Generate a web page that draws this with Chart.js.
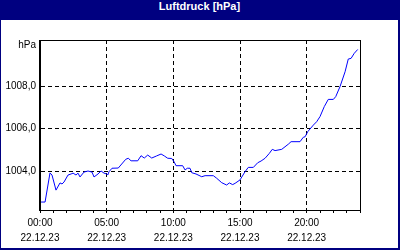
<!DOCTYPE html>
<html>
<head>
<meta charset="utf-8">
<script src="https://cdn.jsdelivr.net/npm/chart.js@4"></script>
<style>
  html, body { margin: 0; padding: 0; background: #fff; }
  #frame {
    width: 400px; height: 250px; box-sizing: border-box;
    border-left: 1px solid #000080; border-right: 2px solid #000080; border-bottom: 2px solid #000080;
    background: #fff;
  }
  #title {
    height: 20px; line-height: 20px; background: #000080; color: #fff;
    font: bold 11px "Liberation Sans", Arial, sans-serif; text-align: center;
  }
  canvas { display: block; }
</style>
</head>
<body>
<div id="frame">
  <div id="title">Luftdruck [hPa]</div>
  <canvas id="chart" width="397" height="228"></canvas>
</div>
<script>
// Messwerte 22.12.23 (Stunden seit 00:00, hPa)
const hours = [0.08, 0.38, 0.75, 0.9, 1.2, 1.5, 1.65, 1.8, 2.1, 2.33, 2.48, 2.7, 2.85, 3.0, 3.3,
  3.6, 3.9, 4.05, 4.35, 4.58, 4.8, 5.0, 5.08, 5.18, 5.4, 5.87, 6.43, 6.62, 6.83, 7.33,
  7.58, 7.82, 8.08, 8.38, 8.75, 9.08, 9.32, 9.58, 9.88, 10.07, 10.2, 10.7, 10.88, 11.05, 11.25,
  11.38, 11.7, 12.13, 12.38, 13.0, 13.25, 13.63, 14.0, 14.2, 14.45, 14.63, 15.0, 15.38, 15.62, 16.0,
  16.33, 16.58, 16.88, 17.2, 17.42, 17.63, 18.13, 18.62, 18.83, 19.5, 19.75, 19.88, 20.08, 20.5, 20.75,
  21.0, 21.32, 21.62, 22.0, 22.18, 22.5, 22.88, 23.12, 23.33, 23.57, 23.83];
const pressure = [1002.54, 1002.54, 1003.91, 1003.81, 1003.1, 1003.44, 1003.39, 1003.48, 1003.81, 1003.86,
  1003.9, 1003.81, 1003.9, 1003.72, 1003.95, 1004.0, 1003.95, 1003.72, 1003.86, 1004.0,
  1003.9, 1003.86, 1003.81, 1003.97, 1004.13, 1004.14, 1004.55, 1004.6, 1004.48, 1004.48,
  1004.72, 1004.61, 1004.75, 1004.61, 1004.71, 1004.8, 1004.71, 1004.6, 1004.59, 1004.42,
  1004.25, 1004.25, 1004.05, 1004.13, 1004.13, 1003.92, 1003.86, 1003.73, 1003.78, 1003.78,
  1003.66, 1003.45, 1003.34, 1003.44, 1003.36, 1003.42, 1003.58, 1003.97, 1004.17, 1004.17,
  1004.39, 1004.47, 1004.6, 1004.83, 1005.02, 1004.96, 1005.02, 1005.26, 1005.38, 1005.38,
  1005.59, 1005.61, 1005.85, 1006.16, 1006.32, 1006.56, 1007.03, 1007.37, 1007.37, 1007.5,
  1007.97, 1008.67, 1009.27, 1009.3, 1009.54, 1009.72];

const dateLabel = '22.12.23';
const yTicks = [1004, 1006, 1008];
const unitTick = 1009.9; // position of the "hPa" label
const yMin = 1002.165;
const yMax = 1010.165;

const font = { family: '"Liberation Sans", Arial, sans-serif', size: 10 };

// black frame around the plot area (top and right side)
const framePlugin = {
  id: 'frame',
  afterDraw(chart) {
    const a = chart.chartArea;
    const ctx = chart.ctx;
    ctx.save();
    ctx.strokeStyle = '#000';
    ctx.lineWidth = 1;
    ctx.strokeRect(Math.round(a.left) - 0.5, Math.round(a.top) + 0.5,
      Math.round(a.right - a.left) + 1, Math.round(a.bottom - a.top));
    ctx.restore();
  }
};

new Chart(document.getElementById('chart'), {
  type: 'line',
  data: {
    datasets: [{
      data: hours.map((h, i) => ({ x: h, y: pressure[i] })),
      borderColor: '#0000ff',
      borderWidth: 1,
      pointRadius: 0,
      tension: 0,
      fill: false
    }]
  },
  options: {
    responsive: false,
    animation: false,
    devicePixelRatio: 1,
    layout: { padding: { left: 0, top: 20, right: 38, bottom: 0 } },
    plugins: { legend: { display: false }, tooltip: { enabled: false } },
    scales: {
      x: {
        type: 'linear',
        min: 0,
        max: 24,
        afterFit: (s) => { s.height = 38; },
        ticks: {
          stepSize: 1,
          autoSkip: false,
          maxRotation: 0,
          padding: 3,
          color: '#000',
          font: { ...font, lineHeight: 1.5 },
          callback: (v) => v % 5 === 0 && v < 24 ? [String(v).padStart(2, '0') + ':00', dateLabel] : ''
        },
        grid: {
          color: (c) => (c.tick && c.tick.value % 5 === 0 && c.tick.value > 0 && c.tick.value < 24) ? '#000' : 'rgba(0,0,0,0)',
          tickColor: '#000',
          tickLength: 3,
          lineWidth: 1
        },
        border: { display: true, color: '#000', width: 1, dash: [4, 3] }
      },
      y: {
        min: yMin,
        max: yMax,
        afterFit: (s) => { s.width = 39; },
        afterBuildTicks: (s) => {
          s.ticks = yTicks.concat([unitTick]).map(v => ({ value: v }));
        },
        ticks: {
          padding: 4,
          color: '#000',
          font: font,
          callback: (v) => v === unitTick ? 'hPa' : v.toFixed(1).replace('.', ',')
        },
        grid: {
          drawTicks: false,
          color: (c) => (c.tick && c.tick.value !== unitTick) ? '#000' : 'rgba(0,0,0,0)',
          lineWidth: 1
        },
        border: { display: true, color: '#000', width: 1, dash: [4, 3] }
      }
    }
  },
  plugins: [framePlugin]
});
</script>
</body>
</html>
